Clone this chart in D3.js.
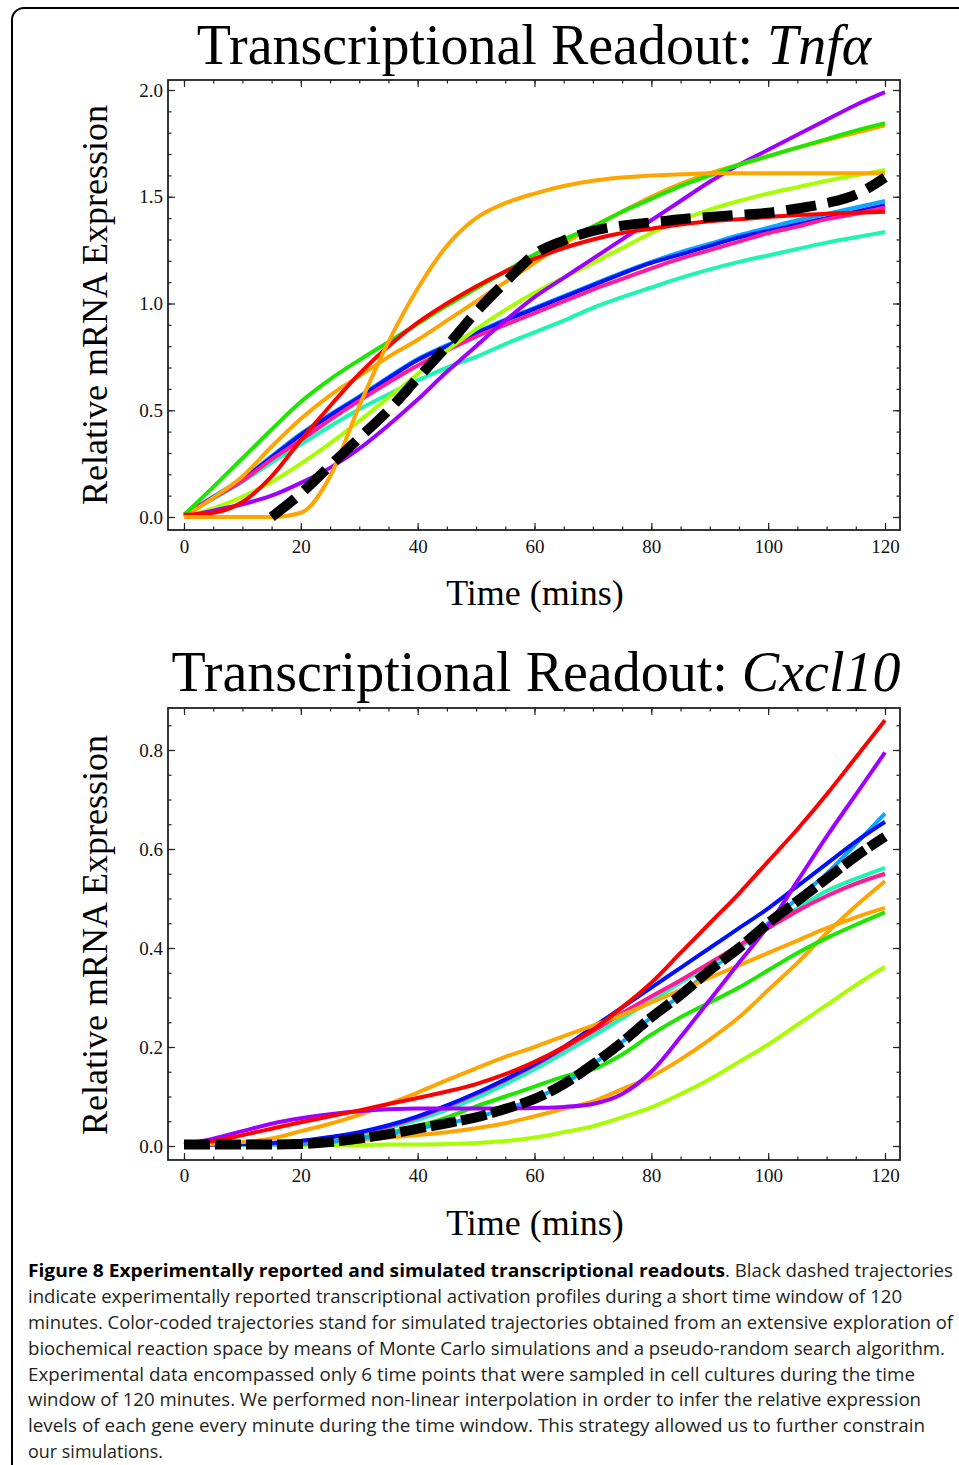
<!DOCTYPE html>
<html>
<head>
<meta charset="utf-8">
<script src="https://cdn.jsdelivr.net/npm/d3@7"></script>
<style>
  html, body { margin: 0; padding: 0; background: #fff; }
  svg { display: block; }
</style>
</head>
<body>
<script>
// Sample times (mins) for the simulated trajectories
let times = [0, 5, 10, 15, 20, 25, 30, 35, 40, 45, 50, 55, 60, 65, 70, 75, 80, 85, 90, 95, 100, 105, 110, 115, 120];

// Tnfa - experimental (dashed) trace starts at 15 min
let tnfExpTimes = [15, 20, 25, 30, 35, 40, 45, 50, 55, 60, 65, 70, 75, 80, 85, 90, 95, 100, 105, 110, 115, 120];
let tnfExp = [0.0, 0.11, 0.24, 0.37, 0.50, 0.65, 0.80, 0.96, 1.10, 1.23, 1.295, 1.34, 1.365, 1.38, 1.395, 1.405, 1.415, 1.425, 1.445, 1.47, 1.51, 1.59];

// Tnfa - simulated trajectories
let tnfAqua    = [0.01, 0.085, 0.165, 0.255, 0.34, 0.425, 0.505, 0.575, 0.64, 0.70, 0.75, 0.81, 0.865, 0.92, 0.98, 1.03, 1.075, 1.12, 1.16, 1.195, 1.225, 1.255, 1.285, 1.31, 1.335];
let tnfSky     = [0.01, 0.095, 0.18, 0.285, 0.39, 0.48, 0.565, 0.655, 0.74, 0.805, 0.865, 0.925, 0.98, 1.035, 1.09, 1.145, 1.195, 1.24, 1.28, 1.32, 1.355, 1.39, 1.42, 1.45, 1.48];
let tnfBlue    = [0.01, 0.09, 0.175, 0.28, 0.385, 0.475, 0.56, 0.65, 0.735, 0.80, 0.86, 0.92, 0.975, 1.03, 1.085, 1.14, 1.19, 1.23, 1.27, 1.31, 1.34, 1.37, 1.40, 1.43, 1.46];
let tnfPink    = [0.01, 0.09, 0.17, 0.27, 0.36, 0.455, 0.545, 0.63, 0.71, 0.78, 0.845, 0.90, 0.955, 1.01, 1.065, 1.115, 1.165, 1.21, 1.25, 1.29, 1.33, 1.36, 1.395, 1.42, 1.45];
let tnfLime    = [0.0, 0.04, 0.095, 0.165, 0.25, 0.345, 0.45, 0.56, 0.67, 0.78, 0.88, 0.97, 1.05, 1.12, 1.19, 1.26, 1.33, 1.39, 1.44, 1.48, 1.515, 1.545, 1.575, 1.60, 1.625];
let tnfPurple  = [0.0, 0.03, 0.06, 0.10, 0.16, 0.23, 0.32, 0.43, 0.55, 0.68, 0.80, 0.92, 1.03, 1.12, 1.21, 1.30, 1.39, 1.48, 1.57, 1.65, 1.72, 1.79, 1.86, 1.93, 1.99];
let tnfOrangeB = [0.0, 0.09, 0.19, 0.33, 0.46, 0.57, 0.66, 0.75, 0.83, 0.92, 1.01, 1.10, 1.19, 1.28, 1.36, 1.43, 1.50, 1.56, 1.61, 1.65, 1.69, 1.73, 1.765, 1.80, 1.835];
let tnfGreen   = [0.01, 0.14, 0.275, 0.41, 0.54, 0.645, 0.735, 0.82, 0.905, 0.99, 1.07, 1.15, 1.23, 1.30, 1.36, 1.43, 1.49, 1.55, 1.60, 1.65, 1.69, 1.73, 1.77, 1.81, 1.845];
let tnfRed     = [0.01, 0.02, 0.07, 0.19, 0.36, 0.52, 0.67, 0.80, 0.91, 1.00, 1.08, 1.15, 1.21, 1.26, 1.30, 1.33, 1.35, 1.37, 1.385, 1.395, 1.405, 1.415, 1.42, 1.425, 1.43];
let tnfOrangeA = [0.0, 0.0, 0.0, 0.0, 0.02, 0.19, 0.52, 0.82, 1.07, 1.27, 1.40, 1.47, 1.515, 1.55, 1.575, 1.59, 1.60, 1.605, 1.61, 1.61, 1.61, 1.61, 1.61, 1.61, 1.61];

// Cxcl10 - experimental (dashed) trace
let cxExp      = [0.003, 0.003, 0.003, 0.003, 0.004, 0.008, 0.015, 0.024, 0.035, 0.046, 0.058, 0.075, 0.095, 0.125, 0.165, 0.21, 0.26, 0.305, 0.355, 0.40, 0.45, 0.495, 0.54, 0.585, 0.625];

// Cxcl10 - simulated trajectories
let cxLime     = [0.002, 0.002, 0.002, 0.002, 0.002, 0.002, 0.002, 0.003, 0.003, 0.004, 0.006, 0.01, 0.017, 0.028, 0.04, 0.058, 0.078, 0.105, 0.135, 0.17, 0.205, 0.245, 0.285, 0.325, 0.362];
let cxOrangeB  = [0.003, 0.003, 0.003, 0.004, 0.005, 0.008, 0.012, 0.017, 0.022, 0.028, 0.036, 0.046, 0.06, 0.075, 0.09, 0.115, 0.14, 0.175, 0.215, 0.26, 0.315, 0.37, 0.43, 0.485, 0.535];
let cxGreen    = [0.003, 0.003, 0.003, 0.004, 0.006, 0.01, 0.017, 0.027, 0.04, 0.058, 0.08, 0.10, 0.12, 0.14, 0.155, 0.185, 0.225, 0.26, 0.29, 0.32, 0.355, 0.39, 0.42, 0.447, 0.472];
let cxSky      = [0.003, 0.003, 0.003, 0.003, 0.004, 0.008, 0.015, 0.024, 0.035, 0.046, 0.058, 0.075, 0.095, 0.125, 0.165, 0.21, 0.26, 0.305, 0.355, 0.40, 0.45, 0.50, 0.55, 0.61, 0.672];
let cxAqua     = [0.003, 0.003, 0.004, 0.006, 0.01, 0.016, 0.025, 0.037, 0.053, 0.073, 0.097, 0.125, 0.155, 0.188, 0.222, 0.258, 0.293, 0.33, 0.365, 0.40, 0.44, 0.48, 0.515, 0.54, 0.562];
let cxPink     = [0.003, 0.003, 0.004, 0.006, 0.01, 0.017, 0.027, 0.04, 0.058, 0.08, 0.105, 0.133, 0.163, 0.197, 0.232, 0.268, 0.302, 0.335, 0.37, 0.405, 0.44, 0.475, 0.505, 0.53, 0.55];
let cxBlue     = [0.003, 0.003, 0.004, 0.006, 0.01, 0.018, 0.028, 0.042, 0.06, 0.082, 0.107, 0.135, 0.165, 0.20, 0.24, 0.28, 0.32, 0.36, 0.40, 0.44, 0.48, 0.525, 0.57, 0.615, 0.655];
let cxOrangeA  = [0.003, 0.004, 0.008, 0.015, 0.03, 0.045, 0.063, 0.085, 0.108, 0.133, 0.157, 0.18, 0.20, 0.222, 0.243, 0.265, 0.29, 0.315, 0.34, 0.365, 0.39, 0.415, 0.44, 0.462, 0.481];
let cxPurple   = [0.003, 0.015, 0.03, 0.045, 0.056, 0.064, 0.07, 0.074, 0.076, 0.076, 0.076, 0.076, 0.077, 0.079, 0.085, 0.105, 0.15, 0.22, 0.295, 0.37, 0.445, 0.535, 0.625, 0.71, 0.795];
let cxRed      = [0.003, 0.01, 0.022, 0.035, 0.048, 0.06, 0.072, 0.085, 0.097, 0.11, 0.125, 0.145, 0.17, 0.20, 0.235, 0.28, 0.33, 0.39, 0.45, 0.51, 0.575, 0.64, 0.71, 0.785, 0.86];

// Tick labels
let xTicks = [0, 20, 40, 60, 80, 100, 120];
let tnfYTicks = [0, 0.5, 1.0, 1.5, 2.0];
let cxYTicks = [0, 0.2, 0.4, 0.6, 0.8];

let serif = "'Liberation Serif', 'Times New Roman', serif";
let colors = {
  aqua: '#1ff5b2', sky: '#08a8ff', blue: '#0010ff', pink: '#ff1a9a', lime: '#a6ff00',
  purple: '#a000ff', orange: '#ffa500', green: '#1ee600', red: '#ff0000'
};

let svg = d3.select('body').append('svg')
  .attr('width', 959)
  .attr('height', 1465);

svg.append('rect').attr('width', 959).attr('height', 1465).attr('fill', '#fff');

// rounded page border
svg.append('rect')
  .attr('x', 12).attr('y', 8)
  .attr('width', 990).attr('height', 1500)
  .attr('rx', 12)
  .attr('fill', 'none')
  .attr('stroke', '#000')
  .attr('stroke-width', 2);

let x = d3.scaleLinear().domain([0, 120]).range([184, 885]);

function drawPanel(p) {
  let y = d3.scaleLinear().domain(p.yDomain).range(p.yRange);
  let g = svg.append('g');
  let fx0 = 168, fx1 = 900;

  // title
  let title = g.append('text')
    .attr('x', p.titleX).attr('y', p.titleY)
    .attr('text-anchor', 'middle')
    .attr('font-family', serif)
    .attr('font-size', 56)
    .attr('fill', '#000');
  title.append('tspan').text('Transcriptional Readout: ');
  title.append('tspan').attr('font-style', 'italic').text(p.gene);

  // lines
  let line = d3.line()
    .x((d, i) => x(times[i]))
    .y(d => y(d))
    .curve(d3.curveMonotoneX);

  g.selectAll('path.sim')
    .data(p.series)
    .enter()
    .append('path')
    .attr('class', 'sim')
    .attr('d', d => line(d.values))
    .attr('fill', 'none')
    .attr('stroke', d => d.color)
    .attr('stroke-width', 4)
    .attr('stroke-linejoin', 'round');

  let expLine = d3.line()
    .x((d, i) => x(p.expTimes[i]))
    .y(d => y(d))
    .curve(d3.curveMonotoneX);

  g.append('path')
    .attr('d', expLine(p.exp))
    .attr('fill', 'none')
    .attr('stroke', '#000')
    .attr('stroke-width', 10)
    .attr('stroke-dasharray', p.dash);

  // frame
  g.append('rect')
    .attr('x', fx0).attr('y', p.frame[0])
    .attr('width', fx1 - fx0).attr('height', p.frame[1] - p.frame[0])
    .attr('fill', 'none')
    .attr('stroke', '#222')
    .attr('stroke-width', 1.8);

  let noDomain = a => a.select('.domain').remove();
  let xMinor = d3.range(0, 121, 5);
  let yMinor = d3.range(0, p.yDomain[1] + 0.2, p.yMinorStep).filter(v => y(v) > p.frame[0] + 2);

  // minor ticks on all four sides
  g.append('g').attr('transform', `translate(0,${p.frame[1]})`)
    .call(d3.axisBottom(x).tickValues(xMinor).tickSize(-3.5).tickFormat('')).call(noDomain);
  g.append('g').attr('transform', `translate(0,${p.frame[0]})`)
    .call(d3.axisTop(x).tickValues(xMinor).tickSize(-3.5).tickFormat('')).call(noDomain);
  g.append('g').attr('transform', `translate(${fx0},0)`)
    .call(d3.axisLeft(y).tickValues(yMinor).tickSize(-3.5).tickFormat('')).call(noDomain);
  g.append('g').attr('transform', `translate(${fx1},0)`)
    .call(d3.axisRight(y).tickValues(yMinor).tickSize(-3.5).tickFormat('')).call(noDomain);

  // major ticks
  let xb = g.append('g').attr('transform', `translate(0,${p.frame[1]})`)
    .call(d3.axisBottom(x).tickValues(xTicks).tickSize(-7).tickPadding(p.xPad).tickFormat(d3.format('d')))
    .call(noDomain);
  g.append('g').attr('transform', `translate(0,${p.frame[0]})`)
    .call(d3.axisTop(x).tickValues(xTicks).tickSize(-7).tickFormat('')).call(noDomain);
  let yl = g.append('g').attr('transform', `translate(${fx0},0)`)
    .call(d3.axisLeft(y).tickValues(p.yTicks).tickSize(-7).tickPadding(5).tickFormat(d3.format('.1f')))
    .call(noDomain);
  g.append('g').attr('transform', `translate(${fx1},0)`)
    .call(d3.axisRight(y).tickValues(p.yTicks).tickSize(-7).tickFormat('')).call(noDomain);

  g.selectAll('.tick line').attr('stroke', '#222').attr('stroke-width', 1.2);
  [xb, yl].forEach(a => a.selectAll('text')
    .attr('font-family', serif)
    .attr('font-size', 19)
    .attr('fill', '#111'));

  // axis titles
  g.append('text')
    .attr('transform', `translate(107,${p.yLabelY}) rotate(-90)`)
    .attr('text-anchor', 'middle')
    .attr('font-family', serif)
    .attr('font-size', 36)
    .attr('fill', '#000')
    .text('Relative mRNA Expression');

  g.append('text')
    .attr('x', 535).attr('y', p.xLabelY)
    .attr('text-anchor', 'middle')
    .attr('font-family', serif)
    .attr('font-size', 36)
    .attr('fill', '#000')
    .text('Time (mins)');
}

drawPanel({
  gene: 'Tnf\u03b1',
  titleX: 534, titleY: 64,
  frame: [80, 530],
  yDomain: [0, 2], yRange: [517, 90],
  yTicks: tnfYTicks, yMinorStep: 0.1,
  xPad: 9.5, yLabelY: 305, xLabelY: 605,
  dash: '30,12',
  expTimes: tnfExpTimes, exp: tnfExp,
  series: [
    { color: colors.aqua, values: tnfAqua },
    { color: colors.sky, values: tnfSky },
    { color: colors.blue, values: tnfBlue },
    { color: colors.pink, values: tnfPink },
    { color: colors.lime, values: tnfLime },
    { color: colors.purple, values: tnfPurple },
    { color: colors.orange, values: tnfOrangeB },
    { color: colors.green, values: tnfGreen },
    { color: colors.red, values: tnfRed },
    { color: colors.orange, values: tnfOrangeA }
  ]
});

drawPanel({
  gene: 'Cxcl10',
  titleX: 536, titleY: 691,
  frame: [708, 1160],
  yDomain: [0, 0.8], yRange: [1146, 750],
  yTicks: cxYTicks, yMinorStep: 0.05,
  xPad: 8.5, yLabelY: 935, xLabelY: 1235,
  dash: '26,5',
  expTimes: times, exp: cxExp,
  series: [
    { color: colors.lime, values: cxLime },
    { color: colors.orange, values: cxOrangeB },
    { color: colors.green, values: cxGreen },
    { color: colors.sky, values: cxSky },
    { color: colors.aqua, values: cxAqua },
    { color: colors.pink, values: cxPink },
    { color: colors.blue, values: cxBlue },
    { color: colors.orange, values: cxOrangeA },
    { color: colors.purple, values: cxPurple },
    { color: colors.red, values: cxRed }
  ]
});

// caption
let sans = "'Open Sans', 'Noto Sans', sans-serif";
let capBaselines = [1277, 1303, 1329, 1355, 1380.5, 1406, 1432, 1458];
let capLines = [
  null,
  'indicate experimentally reported transcriptional activation profiles during a short time window of 120',
  'minutes. Color-coded trajectories stand for simulated trajectories obtained from an extensive exploration of',
  'biochemical reaction space by means of Monte Carlo simulations and a pseudo-random search algorithm.',
  'Experimental data encompassed only 6 time points that were sampled in cell cultures during the time',
  'window of 120 minutes. We performed non-linear interpolation in order to infer the relative expression',
  'levels of each gene every minute during the time window. This strategy allowed us to further constrain',
  'our simulations.'
];
let capEnds = [953, 902, 953, 945, 915, 921, 925, 163];

let cap = svg.append('g')
  .attr('font-family', sans)
  .attr('font-size', 17.5)
  .attr('fill', '#231f20');

cap.append('text')
  .attr('x', 28).attr('y', capBaselines[0])
  .attr('font-weight', 'bold')
  .attr('fill', '#000')
  .attr('textLength', 697)
  .attr('lengthAdjust', 'spacingAndGlyphs')
  .text('Figure 8 Experimentally reported and simulated transcriptional readouts');
cap.append('text')
  .attr('x', 725).attr('y', capBaselines[0])
  .attr('textLength', capEnds[0] - 725)
  .attr('lengthAdjust', 'spacingAndGlyphs')
  .text('. Black dashed trajectories');

capLines.forEach((t, i) => {
  if (!t) return;
  cap.append('text')
    .attr('x', 28).attr('y', capBaselines[i])
    .attr('textLength', capEnds[i] - 28)
    .attr('lengthAdjust', 'spacingAndGlyphs')
    .text(t);
});
</script>
</body>
</html>
